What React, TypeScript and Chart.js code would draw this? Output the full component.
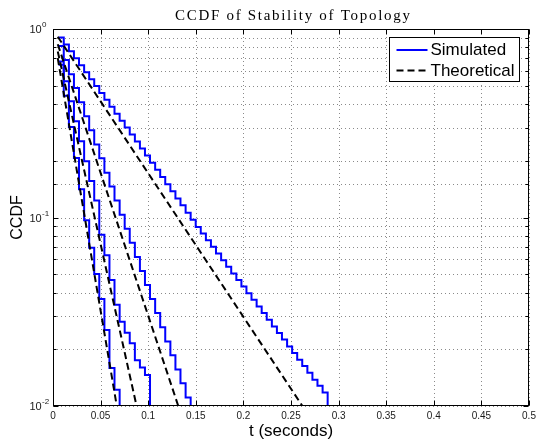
import React, { useEffect, useRef } from 'react';
import { Chart, registerables } from 'chart.js';

Chart.register(...registerables);

const TITLE = 'CCDF of Stability of Topology';
const X_LABEL = 't (seconds)';
const Y_LABEL = 'CCDF';
const SIM_LABEL = 'Simulated';
const THEORY_LABEL = 'Theoretical';

const X_TICKS = [0, 0.05, 0.1, 0.15, 0.2, 0.25, 0.3, 0.35, 0.4, 0.45, 0.5];
const Y_DECADES = [0.01, 0.1, 1];

// times at which the simulated (empirical) CCDF steps down
const STEP_T = [
  0.006, 0.0113, 0.0167, 0.022, 0.0273, 0.0327, 0.038, 0.0433, 0.0486, 0.054,
  0.0593, 0.0646, 0.07, 0.0753, 0.0806, 0.086, 0.0913, 0.0966, 0.1019, 0.1073,
  0.1126, 0.1179, 0.1233, 0.1286, 0.1339, 0.1393, 0.1446, 0.1499, 0.1552, 0.1606,
  0.1659, 0.1712, 0.1766, 0.1819, 0.1872, 0.1926, 0.1979, 0.2032, 0.2085, 0.2139,
  0.2192, 0.2245, 0.2299, 0.2352, 0.2405, 0.2459, 0.2512, 0.2565, 0.2618, 0.2672,
  0.2725, 0.2778, 0.2832, 0.2885,
];

// simulated CCDF values after each step
const SIM_1 = [
  0.902, 0.828, 0.761, 0.7, 0.643, 0.59, 0.542, 0.498, 0.458, 0.421,
  0.387, 0.355, 0.326, 0.3, 0.276, 0.253, 0.232, 0.213, 0.195, 0.179,
  0.164, 0.15, 0.138, 0.126, 0.116, 0.106, 0.0972, 0.0891, 0.0822, 0.0758,
  0.0699, 0.0645, 0.0594, 0.0548, 0.0505, 0.0466, 0.043, 0.0396, 0.0366, 0.0337,
  0.0311, 0.0287, 0.0264, 0.0244, 0.0225, 0.0207, 0.0191, 0.0176, 0.0163, 0.015,
  0.0138, 0.0128, 0.0118, 0.0095,
];
const SIM_2 = [
  0.813, 0.685, 0.576, 0.486, 0.409, 0.344, 0.29, 0.244, 0.206, 0.173,
  0.146, 0.123, 0.1035, 0.0871, 0.0734, 0.0618, 0.052, 0.0438, 0.0369, 0.0311,
  0.0262, 0.022, 0.0186, 0.0156, 0.0132, 0.0111, 0.0095,
];
const SIM_3 = [
  0.673, 0.528, 0.414, 0.324, 0.254, 0.199, 0.156, 0.123, 0.081, 0.063,
  0.0466, 0.0344, 0.028, 0.0245, 0.0215, 0.0175, 0.016, 0.0146, 0.0095,
];
const SIM_4 = [
  0.646, 0.442, 0.302, 0.207, 0.141, 0.0966, 0.0692, 0.0501, 0.0369, 0.0253,
  0.0159, 0.0122, 0.0095,
];

// theoretical CCDFs: straight lines on the log axis (start, end)
const TH_1_T = [0.005, 0.262];
const TH_1_Y = [0.91, 0.01];
const TH_2_T = [0.005, 0.1316];
const TH_2_Y = [0.83, 0.01];
const TH_3_T = [0.005, 0.0878];
const TH_3_Y = [0.76, 0.01];
const TH_4_T = [0.005, 0.067];
const TH_4_Y = [0.7, 0.01];

const SANS = '"Liberation Sans", Arial, Helvetica, sans-serif';
const SIM_COLOR = '#0000ff';
const TH_COLOR = '#000000';
const DASH = [7, 4];

const simSet = (vals: number[], label: string) => ({
  label,
  data: vals.map((v, i) => ({ x: STEP_T[i], y: v })),
  borderColor: SIM_COLOR,
  backgroundColor: SIM_COLOR,
  borderWidth: 2,
  stepped: 'before' as const,
  pointRadius: 0,
  fill: false,
  tension: 0,
});

const thSet = (ts: number[], ys: number[], label: string) => ({
  label,
  data: ts.map((t, i) => ({ x: t, y: ys[i] })),
  borderColor: TH_COLOR,
  backgroundColor: TH_COLOR,
  borderWidth: 2,
  borderDash: DASH,
  pointRadius: 0,
  fill: false,
  tension: 0,
});

const matlabFrame = {
  id: 'matlabFrame',
  beforeDatasetsDraw(chart: any) {
    const { ctx, chartArea: a, scales } = chart;
    const x = scales.x;
    const y = scales.y;
    ctx.save();
    ctx.strokeStyle = '#8a8a8a';
    ctx.lineWidth = 1;
    ctx.setLineDash([1, 3]);
    for (const t of x.ticks) {
      const px = Math.round(x.getPixelForValue(t.value)) + 0.5;
      ctx.beginPath();
      ctx.moveTo(px, a.top);
      ctx.lineTo(px, a.bottom);
      ctx.stroke();
    }
    for (const t of y.ticks) {
      const py = Math.round(y.getPixelForValue(t.value)) + 0.5;
      ctx.beginPath();
      ctx.moveTo(a.left, py);
      ctx.lineTo(a.right, py);
      ctx.stroke();
    }
    ctx.restore();
  },
  afterDatasetsDraw(chart: any) {
    const { ctx, chartArea: a, scales } = chart;
    const x = scales.x;
    const y = scales.y;
    ctx.save();
    ctx.setLineDash([]);
    ctx.strokeStyle = '#000';
    ctx.lineWidth = 1;
    const L = Math.round(a.left) + 0.5;
    const R = Math.round(a.right) - 0.5;
    const T = Math.round(a.top) + 0.5;
    const B = Math.round(a.bottom) - 0.5;
    ctx.strokeRect(L, T, R - L, B - T);
    ctx.beginPath();
    for (const t of x.ticks) {
      const px = Math.round(x.getPixelForValue(t.value)) + 0.5;
      ctx.moveTo(px, B);
      ctx.lineTo(px, B - 5);
      ctx.moveTo(px, T);
      ctx.lineTo(px, T + 5);
    }
    for (const t of y.ticks) {
      const py = Math.round(y.getPixelForValue(t.value)) + 0.5;
      const major = Y_DECADES.some((d) => Math.abs(d - t.value) < 1e-9);
      const len = major ? 5 : 3;
      ctx.moveTo(L, py);
      ctx.lineTo(L + len, py);
      ctx.moveTo(R, py);
      ctx.lineTo(R - len, py);
    }
    ctx.stroke();

    // y tick labels 10^n
    ctx.fillStyle = '#1a1a1a';
    ctx.textBaseline = 'middle';
    for (const d of Y_DECADES) {
      const py = y.getPixelForValue(d);
      const e = Math.round(Math.log10(d));
      ctx.font = `11px ${SANS}`;
      ctx.textAlign = 'left';
      ctx.fillText('10', a.left - 23.5, py + 1);
      ctx.font = `8px ${SANS}`;
      ctx.fillText(String(e), a.left - 11, py - 4);
    }

    // legend
    const lx = a.right - 139.5;
    const ly = a.top + 8.5;
    const lw = 130;
    const lh = 44;
    ctx.fillStyle = '#fff';
    ctx.fillRect(lx, ly, lw, lh);
    ctx.strokeStyle = '#000';
    ctx.lineWidth = 1;
    ctx.strokeRect(lx, ly, lw, lh);
    const items = [
      { ds: chart.data.datasets.find((d: any) => d.label === SIM_LABEL), y: ly + 12.5 },
      { ds: chart.data.datasets.find((d: any) => d.label === THEORY_LABEL), y: ly + 33 },
    ];
    for (const it of items) {
      if (!it.ds) continue;
      ctx.save();
      ctx.strokeStyle = it.ds.borderColor;
      ctx.lineWidth = 2;
      ctx.setLineDash(it.ds.borderDash || []);
      ctx.beginPath();
      ctx.moveTo(lx + 7, it.y);
      ctx.lineTo(lx + 38, it.y);
      ctx.stroke();
      ctx.restore();
      ctx.fillStyle = '#000';
      ctx.font = `17px ${SANS}`;
      ctx.textAlign = 'left';
      ctx.textBaseline = 'middle';
      ctx.fillText(it.ds.label, lx + 41, it.y + 0.5);
    }
    ctx.restore();
  },
  afterDraw(chart: any) {
    const { ctx, chartArea: a } = chart;
    ctx.save();
    ctx.fillStyle = '#000';
    ctx.font = '15px "Liberation Serif", "Times New Roman", serif';
    ctx.textBaseline = 'alphabetic';
    ctx.textAlign = 'left';
    const target = 235;
    const w0 = ctx.measureText(TITLE).width;
    const ls = (target - w0) / (TITLE.length - 1);
    (ctx as any).letterSpacing = `${ls.toFixed(2)}px`;
    const cx = (a.left + a.right) / 2 + 1.5;
    ctx.fillText(TITLE, cx - target / 2, 20);
    ctx.restore();
  },
};

export default function App() {
  const ref = useRef<HTMLCanvasElement | null>(null);

  useEffect(() => {
    if (!ref.current) return;
    const chart = new Chart(ref.current, {
      type: 'line',
      data: {
        datasets: [
          thSet(TH_1_T, TH_1_Y, THEORY_LABEL),
          thSet(TH_2_T, TH_2_Y, THEORY_LABEL + ' 2'),
          thSet(TH_3_T, TH_3_Y, THEORY_LABEL + ' 3'),
          thSet(TH_4_T, TH_4_Y, THEORY_LABEL + ' 4'),
          simSet(SIM_1, SIM_LABEL),
          simSet(SIM_2, SIM_LABEL + ' 2'),
          simSet(SIM_3, SIM_LABEL + ' 3'),
          simSet(SIM_4, SIM_LABEL + ' 4'),
        ] as any,
      },
      options: {
        responsive: false,
        animation: false,
        devicePixelRatio: 1,
        layout: { autoPadding: false, padding: { top: 29, right: 7, left: 0, bottom: 0 } },
        plugins: {
          legend: { display: false },
          tooltip: { enabled: false },
          title: { display: false },
        },
        scales: {
          x: {
            type: 'linear',
            min: 0,
            max: 0.5,
            grid: { display: false, drawTicks: false },
            border: { display: false },
            afterBuildTicks: (s: any) => {
              s.ticks = X_TICKS.map((v) => ({ value: v }));
            },
            afterFit: (s: any) => {
              s.height = 40;
              s.paddingLeft = 0;
              s.paddingRight = 0;
            },
            ticks: {
              autoSkip: false,
              maxRotation: 0,
              padding: 4,
              color: '#1a1a1a',
              font: { family: SANS, size: 10 },
              callback: (v: any) => String(Number(Number(v).toFixed(2))),
            },
            title: {
              display: true,
              text: X_LABEL,
              color: '#000',
              font: { family: SANS, size: 17 },
              padding: { top: 0, bottom: 4 },
            },
          },
          y: {
            type: 'logarithmic',
            min: 0.01,
            max: 1,
            grid: { display: false, drawTicks: false },
            border: { display: false },
            afterFit: (s: any) => {
              s.width = 53;
              s.paddingTop = 0;
              s.paddingBottom = 0;
            },
            ticks: { display: false, autoSkip: false },
            title: {
              display: true,
              text: Y_LABEL,
              color: '#000',
              font: { family: SANS, size: 16 },
              padding: { top: 8, bottom: 0 },
            },
          },
        },
      } as any,
      plugins: [matlabFrame],
    });
    return () => chart.destroy();
  }, []);

  return (
    <div style={{ position: 'fixed', left: 0, top: 0, width: 536, height: 446, background: '#fff' }}>
      <canvas ref={ref} width={536} height={446} style={{ display: 'block' }} />
    </div>
  );
}
